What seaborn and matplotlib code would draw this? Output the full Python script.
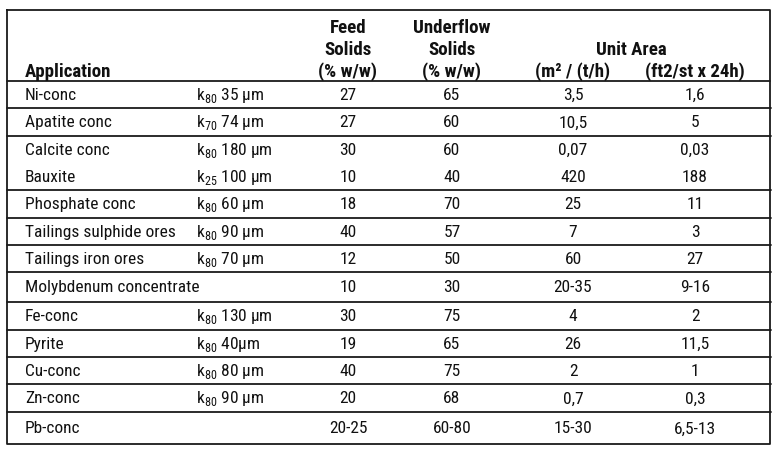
import matplotlib
matplotlib.use("Agg")
import matplotlib.pyplot as plt
import seaborn as sns

# table content
applications = ["Ni-conc", "Apatite conc", "Calcite conc", "Bauxite", "Phosphate conc",
                "Tailings sulphide ores", "Tailings iron ores", "Molybdenum concentrate",
                "Fe-conc", "Pyrite", "Cu-conc", "Zn-conc", "Pb-conc"]
k_index = ["80", "70", "80", "25", "80", "80", "80", "", "80", "80", "80", "80", ""]
particle_size = ["35 µm", "74 µm", "180 µm", "100 µm", "60 µm", "90 µm", "70 µm", "",
                 "130 µm", "40µm", "80 µm", "90 µm", ""]
feed_solids = ["27", "27", "30", "10", "18", "40", "12", "10", "30", "19", "40", "20", "20-25"]
underflow_solids = ["65", "60", "60", "40", "70", "57", "50", "30", "75", "65", "75", "68", "60-80"]
unit_area_m2 = ["3,5", "10,5", "0,07", "420", "25", "7", "60", "20-35", "4", "26", "2", "0,7", "15-30"]
unit_area_ft2 = ["1,6", "5", "0,03", "188", "11", "3", "27", "9-16", "2", "11,5", "1", "0,3", "6,5-13"]
# rows followed by a rule (Calcite/Bauxite share a block)
rule_after = [0, 1, 3, 4, 5, 6, 7, 8, 9, 10, 11]

# layout (pixel space)
W, H = 781, 456
left, right, top, bottom = 7, 770, 11, 445
header_bottom = 82
row_h = [27, 28, 27, 27, 28, 27, 27, 30, 28, 27, 27, 28, 32]
col_app, col_k = 25, 196
col_feed, col_under, col_m2, col_ft2 = 348, 452, 573, 695

sns.set_theme(style="white")
plt.rcParams['font.family'] = ['Roboto Condensed', 'DejaVu Sans']
plt.rcParams['mathtext.fontset'] = 'custom'
plt.rcParams['mathtext.rm'] = 'Roboto Condensed'

fig = plt.figure(figsize=(W / 100, H / 100), dpi=100)
ax = fig.add_axes([0, 0, 1, 1])
ax.set_xlim(0, W)
ax.set_ylim(H, 0)
ax.axis("off")

fs = 12.5
lc = "#1a1a1a"

# frame and header rule
ax.plot([left, right, right, left, left], [top, top, bottom, bottom, top], color=lc, lw=1.3)
ax.plot([left, right], [header_bottom, header_bottom], color=lc, lw=1.3)

# header
hd = dict(fontsize=13.6, fontweight="bold", color="#111111", va="center")
ax.text(col_app, 72, "Application", ha="left", **hd)
ax.text(col_feed, 28, "Feed", ha="center", **hd)
ax.text(col_feed, 50, "Solids", ha="center", **hd)
ax.text(col_feed, 72, "(% w/w)", ha="center", **hd)
ax.text(col_under, 28, "Underflow", ha="center", **hd)
ax.text(col_under, 50, "Solids", ha="center", **hd)
ax.text(col_under, 72, "(% w/w)", ha="center", **hd)
ax.text(631, 50, "Unit Area", ha="center", **hd)
ax.text(col_m2, 72, "(m² / (t/h)", ha="center", **hd)
ax.text(col_ft2, 72, "(ft2/st x 24h)", ha="center", **hd)

# body
bd = dict(fontsize=fs, color="#111111", va="center")
y = header_bottom
for i, app in enumerate(applications):
    yc = y + row_h[i] / 2
    ax.text(col_app, yc, app, ha="left", **bd)
    if k_index[i]:
        ax.text(col_k, yc, r"k$_{\mathregular{" + k_index[i] + "}}$ " + particle_size[i],
                ha="left", **bd)
    ax.text(col_feed, yc, feed_solids[i], ha="center", **bd)
    ax.text(col_under, yc, underflow_solids[i], ha="center", **bd)
    ax.text(col_m2, yc, unit_area_m2[i], ha="center", **bd)
    ax.text(col_ft2, yc, unit_area_ft2[i], ha="center", **bd)
    y += row_h[i]
    if i in rule_after:
        ax.plot([left, right + 1], [y, y], color=lc, lw=1.3)

fig.savefig("out.png", dpi=100, facecolor="white")
